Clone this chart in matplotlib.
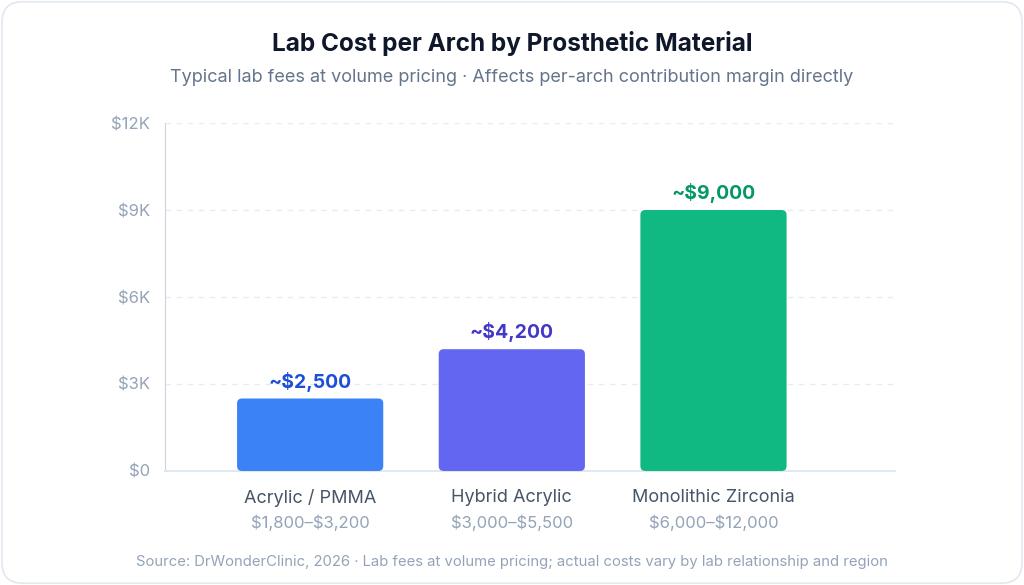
import matplotlib.pyplot as plt
from matplotlib.patches import FancyBboxPatch
from matplotlib.ticker import FuncFormatter

plt.rcParams['font.family'] = ['Inter', 'DejaVu Sans']

# données
materiaux = ['Acrylic / PMMA', 'Hybrid Acrylic', 'Monolithic Zirconia']
couts = [2500, 4200, 9000]
fourchettes = ['$1,800–$3,200', '$3,000–$5,500', '$6,000–$12,000']
etiquettes = ['~$2,500', '~$4,200', '~$9,000']
couleurs_barres = ['#3b82f6', '#6366f1', '#10b981']
couleurs_texte = ['#1d4ed8', '#4338ca', '#059669']
yticks = [0, 3000, 6000, 9000, 12000]

fig = plt.figure(figsize=(10.24, 5.85), dpi=100)
fig.patch.set_facecolor('white')

# cadre arrondi autour de la carte
carte = FancyBboxPatch((0.002, 0.003), 0.996, 0.994,
                       boxstyle='round,pad=0,rounding_size=0.02',
                       transform=fig.transFigure, facecolor='white',
                       edgecolor='#e2e8f0', linewidth=1.2, mutation_aspect=1024 / 585,
                       zorder=-10)
fig.patches.append(carte)

ax = fig.add_axes([0.1611, 0.1949, 0.874 - 0.1611, 0.7897 - 0.1949])
ax.set_facecolor('none')
ax.set_xlim(-0.72, 2.90)
ax.set_ylim(0, 12000)

x = list(range(len(materiaux)))
largeur = 0.725
barres = ax.bar(x, couts, width=largeur, color=couleurs_barres)

# remplacer les barres par des rectangles arrondis
bbox = ax.get_window_extent()
x_par_px = (2.90 + 0.72) / bbox.width
y_par_px = 12000 / bbox.height
rayon = 5 * x_par_px
for b, c in zip(barres, couleurs_barres):
    b.set_visible(False)
    p = FancyBboxPatch((b.get_x(), b.get_y()), b.get_width(), b.get_height(),
                       boxstyle=f'round,pad=0,rounding_size={rayon}',
                       mutation_aspect=y_par_px / x_par_px,
                       facecolor=c, edgecolor='none', zorder=3)
    ax.add_patch(p)

for i, (v, t, c) in enumerate(zip(couts, etiquettes, couleurs_texte)):
    ax.annotate(t, xy=(i, v), xytext=(0, 5), textcoords='offset points',
                ha='center', va='bottom', fontsize=14, fontweight='bold', color=c,
                parse_math=False)
    ax.annotate(fourchettes[i], xy=(i, 0), xytext=(0, -37), textcoords='offset points',
                ha='center', va='center', fontsize=12, color='#94a3b8',
                parse_math=False)

ax.set_xticks(x)
ax.set_xticklabels(materiaux, fontsize=13, color='#475569')
ax.tick_params(axis='x', length=0, pad=13)
ax.set_yticks(yticks)
ax.yaxis.set_major_formatter(FuncFormatter(lambda v, p: '$0' if v == 0 else f'${int(v / 1000)}K'))
ax.tick_params(axis='y', length=0, pad=11, labelsize=12, labelcolor='#94a3b8')

for y in yticks[1:]:
    ax.axhline(y, color='#e8ecf2', linewidth=1, linestyle=(0, (4, 4)), zorder=1)

for s in ['top', 'right']:
    ax.spines[s].set_visible(False)
ax.spines['left'].set_color('#cbd5e1')
ax.spines['bottom'].set_color('#e2e8f0')
ax.spines['bottom'].set_linewidth(1.5)

fig.text(0.5, 1 - 43 / 585, 'Lab Cost per Arch by Prosthetic Material',
         ha='center', va='center', fontsize=17.5, fontweight='bold', color='#0f172a')
fig.text(0.5, 1 - 77 / 585, 'Typical lab fees at volume pricing · Affects per-arch contribution margin directly',
         ha='center', va='center', fontsize=13, color='#64748b')
fig.text(0.5, 1 - 562 / 585, 'Source: DrWonderClinic, 2026 · Lab fees at volume pricing; actual costs vary by lab relationship and region',
         ha='center', va='center', fontsize=10.7, color='#94a3b8')

fig.savefig('out.png', dpi=100, facecolor='white')
